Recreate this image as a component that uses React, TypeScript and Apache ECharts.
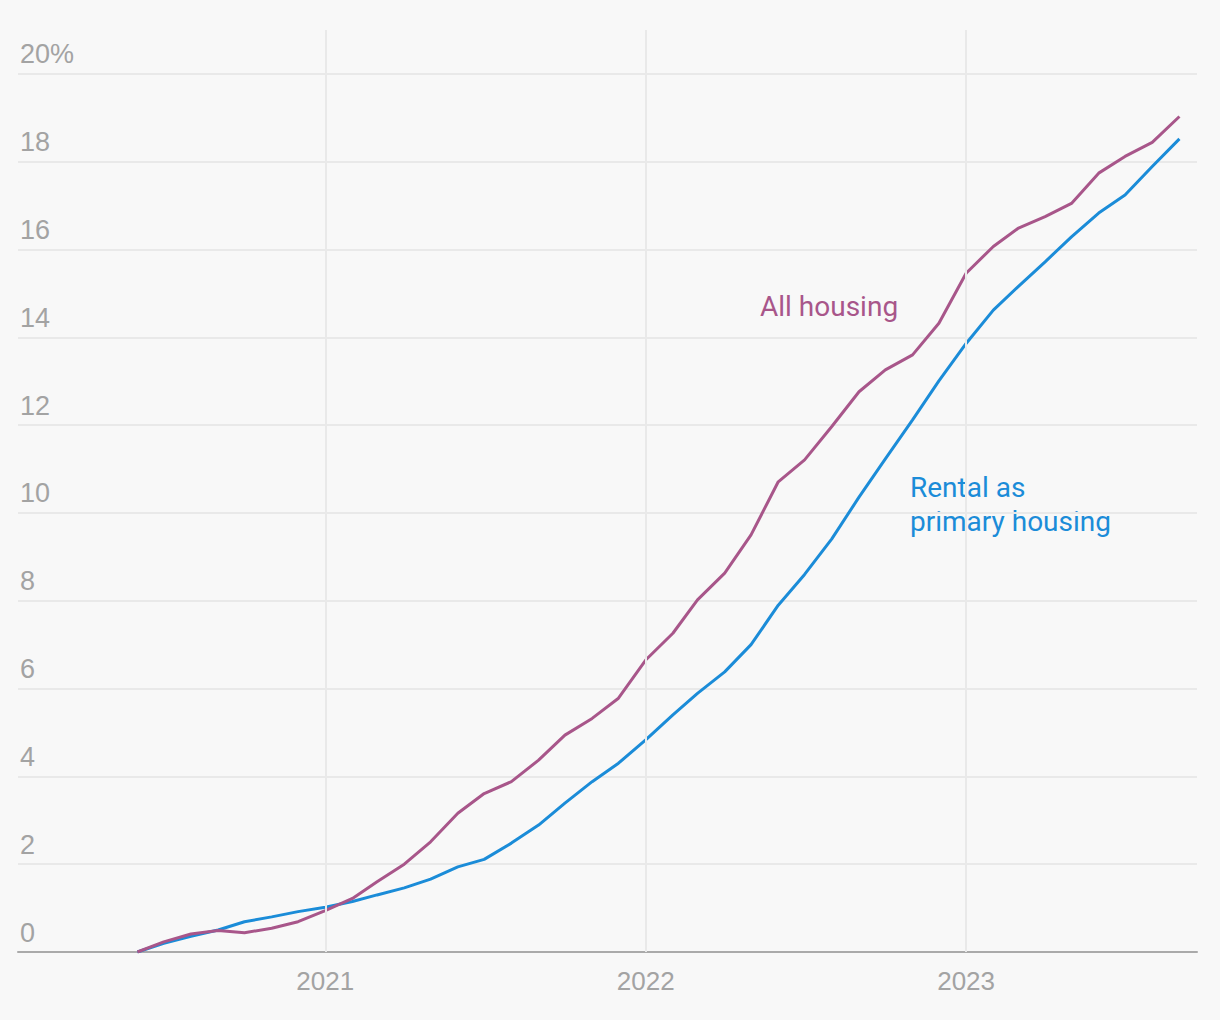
import React, { useEffect, useRef } from "react";
import * as echarts from "echarts";

const months: string[] = [
  "2020-06", "2020-07", "2020-08", "2020-09", "2020-10", "2020-11", "2020-12",
  "2021-01", "2021-02", "2021-03", "2021-04", "2021-05", "2021-06", "2021-07",
  "2021-08", "2021-09", "2021-10", "2021-11", "2021-12",
  "2022-01", "2022-02", "2022-03", "2022-04", "2022-05", "2022-06", "2022-07",
  "2022-08", "2022-09", "2022-10", "2022-11", "2022-12",
  "2023-01", "2023-02", "2023-03", "2023-04", "2023-05", "2023-06", "2023-07",
  "2023-08", "2023-09",
];

const allHousing: number[] = [
  0, 0.23, 0.41, 0.49, 0.44, 0.54, 0.69,
  0.94, 1.22, 1.6, 2.0, 2.51, 3.16, 3.61,
  3.88, 4.37, 4.94, 5.32, 5.78,
  6.65, 7.26, 8.02, 8.63, 9.5, 10.71, 11.21,
  11.97, 12.76, 13.26, 13.6, 14.32,
  15.46, 16.07, 16.48, 16.75, 17.05, 17.74, 18.12,
  18.44, 19.03,
];

const rentalPrimary: number[] = [
  0, 0.2, 0.36, 0.5, 0.69, 0.8, 0.92,
  1.02, 1.15, 1.3, 1.46, 1.66, 1.94, 2.11,
  2.48, 2.89, 3.39, 3.88, 4.3,
  4.83, 5.4, 5.89, 6.38, 7.0, 7.9, 8.6,
  9.41, 10.36, 11.23, 12.12, 13.01,
  13.86, 14.62, 15.15, 15.72, 16.29, 16.83, 17.24,
  17.89, 18.52,
];

const yearTicks: number[] = [2021, 2022, 2023];
const yTicks: number[] = [0, 2, 4, 6, 8, 10, 12, 14, 16, 18, 20];

const PURPLE = "#a8568a";
const BLUE = "#1b8cd8";
const LABEL = "#a3a3a3";
const GRID = "#e9e9e9";

function ts(m: string): number {
  const [y, mo] = m.split("-").map(Number);
  return Date.UTC(y, mo - 1, 1);
}

export default function App() {
  const ref = useRef<HTMLDivElement>(null);

  useEffect(() => {
    if (!ref.current) return;
    const chart = echarts.init(ref.current, null, { renderer: "svg" });
    const axisFont = "'Liberation Sans', Arial, sans-serif";
    const annFont = "Roboto, 'Noto Sans', sans-serif";

    const option: any = {
      animation: false,
      backgroundColor: "#f8f8f8",
      grid: { left: 18, right: 23, top: 30, bottom: 68, containLabel: false },
      xAxis: {
        type: "value",
        min: Date.UTC(2020, 0, 17),
        max: Date.UTC(2023, 8, 21),
        axisLine: { show: true, lineStyle: { color: "#aaaaaa", width: 2 } },
        axisTick: { show: false },
        axisLabel: { show: false },
        splitLine: { show: false },
      },
      yAxis: {
        type: "value",
        min: 0,
        max: 21,
        interval: 2,
        axisLine: { show: false },
        axisTick: { show: false },
        splitLine: {
          show: true,
          showMaxLine: false,
          lineStyle: { color: GRID, width: 2 },
        },
        axisLabel: {
          inside: true,
          margin: 2,
          color: LABEL,
          fontSize: 27,
          fontFamily: axisFont,
          verticalAlign: "bottom",
          padding: [0, 0, 6, 0],
          customValues: yTicks,
          formatter: (v: number) => (v === 20 ? "20%" : String(v)),
        },
      },
      series: [
        {
          type: "line",
          data: [],
          z: 1,
          silent: true,
          markLine: {
            silent: true,
            symbol: ["none", "none"],
            lineStyle: { color: GRID, width: 2, type: "solid" },
            label: {
              show: true,
              position: "start",
              distance: 16,
              color: LABEL,
              fontSize: 26,
              fontFamily: axisFont,
              formatter: (p: any) => p.name,
            },
            data: yearTicks.map((y) => ({ name: String(y), xAxis: Date.UTC(y, 0, 1) })),
          },
        },
        {
          name: "Rental as primary housing",
          type: "line",
          z: 3,
          symbol: "none",
          lineStyle: { color: BLUE, width: 3 },
          itemStyle: { color: BLUE },
          data: months.map((m, i) => [ts(m), rentalPrimary[i]]),
        },
        {
          name: "All housing",
          type: "line",
          z: 4,
          symbol: "none",
          lineStyle: { color: PURPLE, width: 3 },
          itemStyle: { color: PURPLE },
          data: months.map((m, i) => [ts(m), allHousing[i]]),
        },
      ],
      graphic: [
        {
          type: "text",
          left: 760,
          top: 292,
          style: {
            text: "All housing",
            fill: PURPLE,
            fontSize: 28,
            fontFamily: annFont,
          },
        },
        {
          type: "text",
          left: 910,
          top: 470,
          style: {
            text: "Rental as\nprimary housing",
            fill: BLUE,
            fontSize: 28,
            lineHeight: 34,
            fontFamily: annFont,
          },
        },
      ],
    };
    chart.setOption(option);
    return () => chart.dispose();
  }, []);

  return (
    <div
      ref={ref}
      style={{ position: "fixed", left: 0, top: 0, width: 1220, height: 1020 }}
    />
  );
}
